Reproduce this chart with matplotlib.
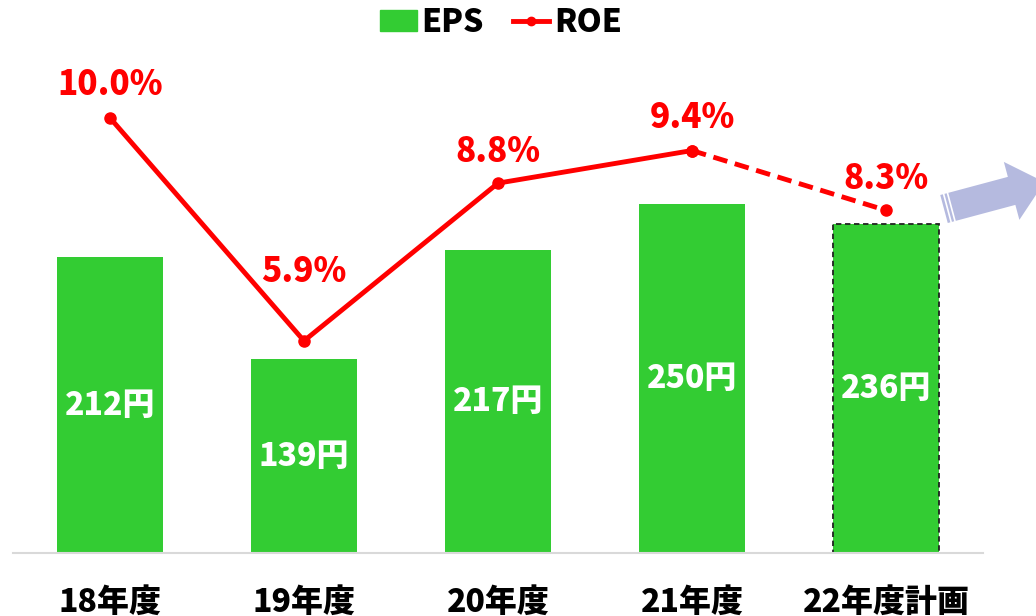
import matplotlib.pyplot as plt
from matplotlib.lines import Line2D
from matplotlib.patches import Patch, Polygon
import numpy as np

plt.rcParams['font.family'] = ['Noto Sans CJK JP', 'DejaVu Sans']
plt.rcParams['font.weight'] = 'heavy'

years = ["18年度", "19年度", "20年度", "21年度", "22年度計画"]
eps = [212, 139, 217, 250, 236]
roe = [10.0, 5.9, 8.8, 9.4, 8.3]

GREEN = "#33cc33"
RED = "#ff0000"
FS = 23

W, H = 1036, 616
fig = plt.figure(figsize=(W / 100, H / 100), dpi=100)
ax = fig.add_axes([13 / W, (H - 553) / H, 970 / W, (553 - 45) / H])
ax2 = ax.twinx()

x = np.arange(len(years))

# EPS bars, the plan year gets a dashed outline
bars = ax.bar(x, eps, width=0.55, color=GREEN, zorder=2)
bars[-1].set_edgecolor("#222222")
bars[-1].set_linestyle((0, (3, 2)))
bars[-1].set_linewidth(1.3)
for xi, v in zip(x, eps):
    ax.text(xi, v / 2, f"{v}円", color="white", fontsize=FS, fontweight="heavy",
            ha="center", va="center", zorder=3)

ax.set_xlim(-0.5, len(years) - 0.5)
ax.set_ylim(0, 364)
ax.set_xticks(x)
ax.set_xticklabels(years, fontsize=FS, fontweight="heavy")
ax.tick_params(axis="x", length=0, pad=23)
ax.set_yticks([])
for side in ["top", "left", "right"]:
    ax.spines[side].set_visible(False)
ax.spines["bottom"].set_color("#d9d9d9")
ax.spines["bottom"].set_linewidth(1.5)

# ROE line: actuals solid, plan dashed
ax2.plot(x[:-1], roe[:-1], color=RED, lw=3.5, marker="o", ms=8, zorder=4)
ax2.plot(x[-2:], roe[-2:], color=RED, lw=3.5, ls=(0, (3, 1.6)), marker="o", ms=8, zorder=4)
ax2.set_ylim(2.0, 11.34)
ax2.set_yticks([])
for side in ["top", "left", "right", "bottom"]:
    ax2.spines[side].set_visible(False)

label_lift = [24, 50, 23, 24, 23]
for xi, v, dy in zip(x, roe, label_lift):
    ax2.annotate(f"{v:.1f}%", (xi, v), xytext=(0, dy), textcoords="offset points",
                 color=RED, fontsize=24, fontweight="heavy", ha="center", va="center")

# legend along the top
handles = [Patch(color=GREEN, label="EPS"),
           Line2D([], [], color=RED, lw=3.5, marker="o", ms=6, label="ROE")]
fig.legend(handles=handles, loc="center", bbox_to_anchor=(501 / W, 1 - 22 / H),
           ncol=2, frameon=False, handlelength=1.15, handleheight=0.6,
           handletextpad=0.15, columnspacing=0.9, prop={"weight": "heavy", "size": FS})

# block arrow on the right edge
def to_fig(px, py):
    return (px / W, 1 - py / H)

ang = np.deg2rad(15)
d = np.array([np.cos(ang), -np.sin(ang)])
n = np.array([np.sin(ang), np.cos(ang)])
tail = np.array([944.0, 209.0])
shaft_len, head_len, shaft_w, head_w = 70, 34, 29, 60
p = [tail + n * shaft_w / 2, tail + d * shaft_len + n * shaft_w / 2,
     tail + d * shaft_len + n * head_w / 2, tail + d * (shaft_len + head_len),
     tail + d * shaft_len - n * head_w / 2, tail + d * shaft_len - n * shaft_w / 2,
     tail - n * shaft_w / 2]
fig.patches.append(Polygon([to_fig(*q) for q in p], closed=True, color="#b5badf",
                           transform=fig.transFigure, figure=fig, lw=0))
for s in (3.5, 7.5):
    a = tail + d * s + n * (shaft_w / 2 + 1)
    b = tail + d * s - n * (shaft_w / 2 + 1)
    fig.lines.append(Line2D([a[0] / W, b[0] / W], [1 - a[1] / H, 1 - b[1] / H],
                            color="white", lw=1.2, transform=fig.transFigure))

fig.savefig("out.png", dpi=100, facecolor="white")
